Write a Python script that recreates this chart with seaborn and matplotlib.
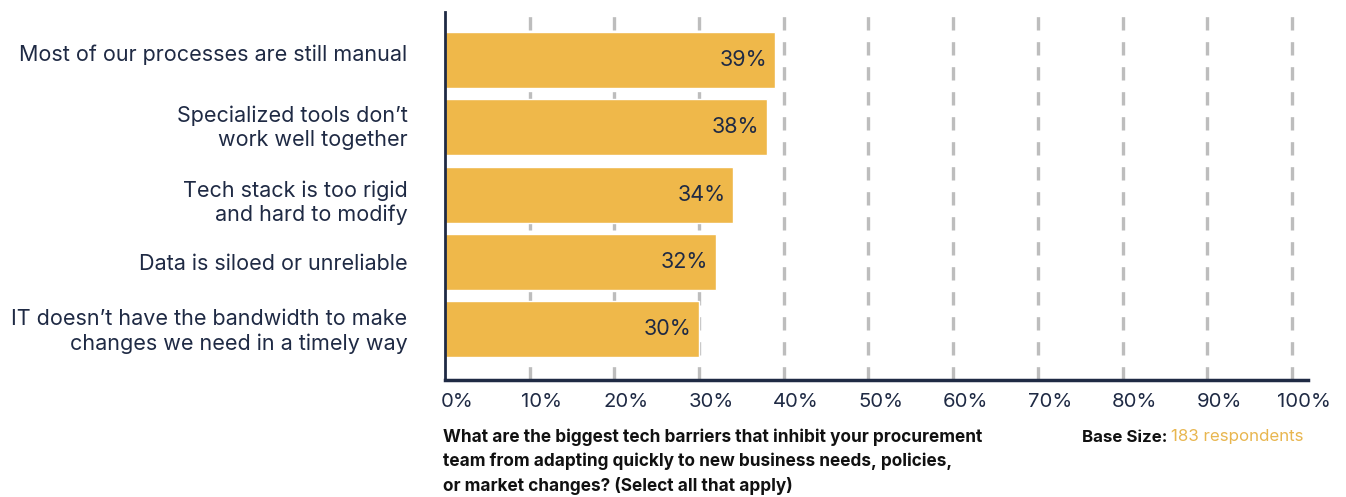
import matplotlib
matplotlib.use("Agg")
import matplotlib.pyplot as plt
import matplotlib.transforms as mtransforms
import seaborn as sns
import pandas as pd
from matplotlib.ticker import FixedLocator

# Survey results
barriers = [
    "Most of our processes are still manual",
    "Specialized tools don\u2019t\nwork well together",
    "Tech stack is too rigid\nand hard to modify",
    "Data is siloed or unreliable",
    "IT doesn\u2019t have the bandwidth to make\nchanges we need in a timely way",
]
shares = [39, 38, 34, 32, 30]
tick_values = [0, 10, 20, 30, 40, 50, 60, 70, 80, 90, 100]
tick_labels = [f"{v}%" for v in tick_values]

question = ("What are the biggest tech barriers that inhibit your procurement\n"
            "team from adapting quickly to new business needs, policies,\n"
            "or market changes? (Select all that apply)")
base_label = "Base Size: "
base_value = "183 respondents"

NAVY = "#1f2a44"
GOLD = "#efb84a"
GRID = "#bdbdbd"

sns.set_theme(style="white")
plt.rcParams["font.family"] = ["Inter", "DejaVu Sans"]

df = pd.DataFrame({"barrier": barriers, "share": shares})

fig = plt.figure(figsize=(13.46, 4.97), dpi=100)
ax = fig.add_axes([0.3306, 0.2354, 0.6412, 0.7405])

# dashed vertical gridlines behind the bars
for v in tick_values[1:]:
    ax.axvline(v, color=GRID, lw=2.4, ls=(0, (4, 3.5)), zorder=0)

sns.barplot(data=df, x="share", y="barrier", orient="h", color=GOLD,
            saturation=1, width=0.83, ax=ax, zorder=2)

for patch, val in zip(ax.patches, shares):
    y = patch.get_y() + patch.get_height() / 2
    ax.text(val - 0.9, y, f"{val}%", ha="right", va="center",
            fontsize=15.5, color=NAVY, zorder=3)

ax.set_xlim(0, 101.9)
ax.set_ylim(4.75, -0.71)
ax.xaxis.set_major_locator(FixedLocator(tick_values))
ax.set_xticklabels(tick_labels)
ax.set_xlabel("")
ax.set_ylabel("")
ax.tick_params(axis="x", length=5, width=2.2, color=GRID, labelsize=14.6,
               labelcolor=NAVY, pad=9, direction="in")
ax.tick_params(axis="y", length=0, labelsize=15.5, labelcolor=NAVY, pad=27)

# percentage labels sit slightly to the right of their ticks
shift_right = mtransforms.ScaledTranslation(12 / 100, 0, fig.dpi_scale_trans)
for lbl in ax.get_xticklabels():
    lbl.set_transform(lbl.get_transform() + shift_right)

y_shifts = [7, 3, -4, 0, 2]
for lbl, dy in zip(ax.get_yticklabels(), y_shifts):
    lbl.set_linespacing(1.25)
    lbl.set_transform(lbl.get_transform() +
                      mtransforms.ScaledTranslation(0, dy / 100, fig.dpi_scale_trans))

for side in ("top", "right"):
    ax.spines[side].set_visible(False)
ax.spines["left"].set_color(NAVY)
ax.spines["left"].set_linewidth(2)
ax.spines["bottom"].set_color(NAVY)
ax.spines["bottom"].set_linewidth(2.5)

fig.text(443 / 1346, 1 - 428 / 497, question, ha="left", va="top",
         fontsize=12.4, fontweight="bold", color="#111111", linespacing=1.52)

t = fig.text(1082 / 1346, 1 - 437 / 497, base_label, ha="left", va="center",
             fontsize=12.2, fontweight="bold", color="#111111")
fig.canvas.draw()
bb = t.get_window_extent()
fig.text(bb.x1 / fig.bbox.width, 1 - 437 / 497, base_value, ha="left",
         va="center", fontsize=12.2, color="#e8b64f")

fig.savefig("out.png", dpi=100)
